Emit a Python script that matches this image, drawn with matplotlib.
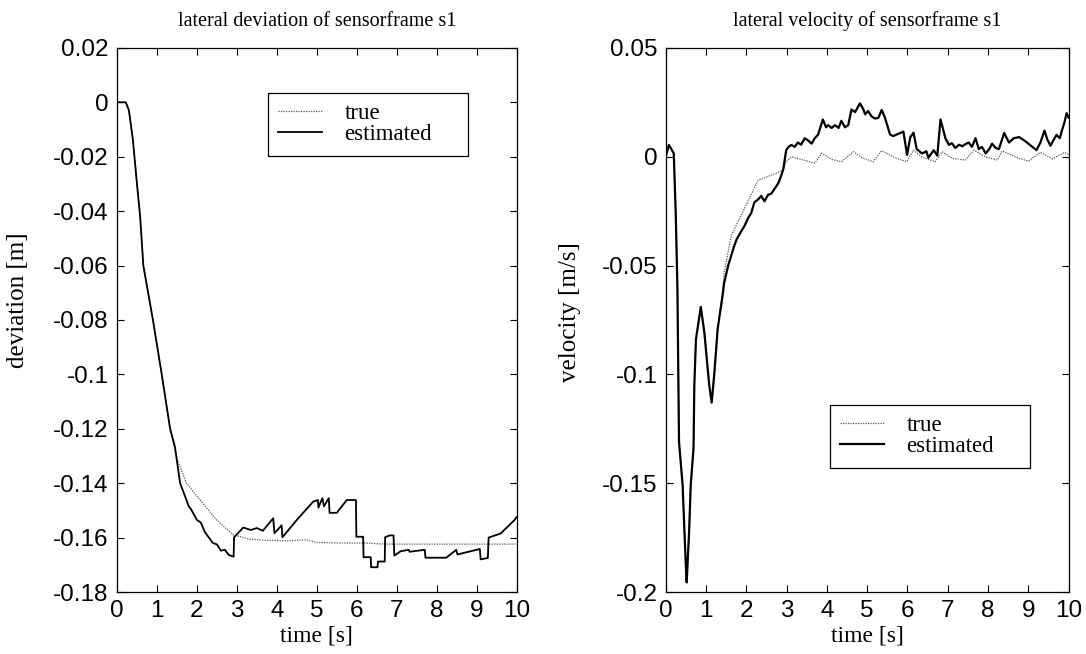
import matplotlib
matplotlib.use("Agg")
import matplotlib.pyplot as plt

# lateral deviation (left plot)
t_dev_true = [0, 0.22, 0.3, 0.4, 0.5, 0.58, 0.66, 0.9, 1.12, 1.33, 1.5, 1.74, 2.07, 2.49, 2.91,
              3.3, 3.74, 4.3, 4.74, 4.99, 5.6, 6.24, 6.66, 7.5, 8.5, 9.5, 10]
dev_true = [0, 0, -0.003, -0.014, -0.03, -0.042, -0.06, -0.08, -0.10, -0.12, -0.131, -0.14,
            -0.146, -0.1535, -0.159, -0.1605, -0.161, -0.1612, -0.1608, -0.1618, -0.162,
            -0.162, -0.1624, -0.1624, -0.1624, -0.1624, -0.1624]

t_dev_est = [0, 0.22, 0.3, 0.4, 0.5, 0.58, 0.66, 0.9, 1.12, 1.33, 1.45, 1.58, 1.8, 1.85, 2.0,
             2.1, 2.2, 2.4, 2.5, 2.6, 2.7, 2.8, 2.92, 2.93, 3.16, 3.35, 3.5, 3.65, 3.91, 3.94,
             4.12, 4.14, 4.5, 4.91, 5.03, 5.04, 5.14, 5.18, 5.3, 5.32, 5.5, 5.75, 5.98, 5.99,
             6.16, 6.17, 6.35, 6.36, 6.52, 6.53, 6.7, 6.71, 6.82, 6.92, 6.94, 7.1, 7.3, 7.32,
             7.7, 7.72, 8.24, 8.49, 8.52, 9.08, 9.1, 9.28, 9.3, 9.6, 9.95, 10]
dev_est = [0, 0, -0.003, -0.014, -0.03, -0.042, -0.06, -0.08, -0.10, -0.12, -0.1266, -0.14,
           -0.1486, -0.1495, -0.1535, -0.1545, -0.158, -0.162, -0.1625, -0.1648, -0.1645,
           -0.1664, -0.167, -0.1599, -0.1563, -0.1572, -0.1565, -0.1575, -0.1529, -0.1584,
           -0.1555, -0.1599, -0.1535, -0.1468, -0.1462, -0.149, -0.1455, -0.1485, -0.1455,
           -0.1509, -0.1509, -0.1462, -0.1462, -0.1597, -0.1597, -0.1672, -0.1672, -0.1709,
           -0.1709, -0.1688, -0.1688, -0.1599, -0.1592, -0.1592, -0.1666, -0.165, -0.1645,
           -0.1652, -0.1645, -0.1674, -0.1674, -0.1645, -0.1662, -0.1642, -0.168, -0.1675,
           -0.16, -0.1585, -0.1535, -0.1525]

# lateral velocity (right plot)
t_vel_true = [0, 0.08, 0.2, 0.25, 0.29, 0.33, 0.42, 0.46, 0.5, 0.52, 0.58, 0.62, 0.69, 0.71,
              0.75, 0.87, 0.96, 1.08, 1.14, 1.2, 1.29, 1.41, 1.45, 1.62, 1.95, 2.29, 2.62,
              2.91, 2.99, 3.12, 3.36, 3.7, 3.87, 4.12, 4.36, 4.66, 4.87, 5.15, 5.36, 5.69,
              5.98, 6.15, 6.36, 6.69, 6.86, 7.11, 7.44, 7.65, 7.94, 8.23, 8.35, 8.77, 9.0,
              9.3, 9.6, 9.9, 10]
vel_true = [0, 0.0054, 0.0015, -0.027, -0.06, -0.131, -0.151, -0.17, -0.188, -0.1956, -0.1726,
            -0.151, -0.134, -0.105, -0.084, -0.069, -0.081, -0.105, -0.113, -0.101, -0.079,
            -0.062, -0.0536, -0.0365, -0.024, -0.0109, -0.0085, -0.0062, -0.0023, 0.0,
            -0.0012, -0.003, 0.0016, -0.0012, -0.0023, 0.0023, -0.0005, -0.0023, 0.0028,
            -0.0005, -0.0023, 0.003, -0.0002, -0.0023, 0.0023, -0.0008, -0.0015, 0.003,
            -0.0002, -0.0015, 0.0026, -0.0008, -0.002, 0.002, -0.001, 0.002, 0.001]

t_vel_est = [0, 0.08, 0.2, 0.25, 0.29, 0.33, 0.42, 0.46, 0.5, 0.52, 0.58, 0.62, 0.69, 0.71,
             0.75, 0.87, 0.96, 1.08, 1.14, 1.2, 1.29, 1.41, 1.45, 1.55, 1.7, 1.76, 1.82, 1.9,
             1.95, 2.05, 2.12, 2.2, 2.3, 2.37, 2.45, 2.54, 2.62, 2.7, 2.8, 2.87, 2.92, 2.99,
             3.05, 3.12, 3.2, 3.28, 3.36, 3.45, 3.53, 3.62, 3.7, 3.78, 3.9, 3.98, 4.03, 4.12,
             4.2, 4.29, 4.36, 4.45, 4.53, 4.61, 4.7, 4.76, 4.82, 4.9, 4.95, 5.02, 5.11, 5.2,
             5.28, 5.36, 5.44, 5.57, 5.65, 5.77, 5.9, 5.99, 6.07, 6.15, 6.23, 6.36, 6.47, 6.52,
             6.65, 6.74, 6.82, 6.9, 6.94, 7.03, 7.1, 7.19, 7.28, 7.36, 7.44, 7.52, 7.6, 7.69,
             7.77, 7.85, 7.94, 8.03, 8.1, 8.19, 8.27, 8.4, 8.52, 8.64, 8.77, 8.9, 9.0, 9.1,
             9.2, 9.3, 9.4, 9.47, 9.55, 9.62, 9.7, 9.78, 9.85, 9.9, 9.95, 10]
vel_est = [0, 0.0054, 0.0015, -0.027, -0.06, -0.131, -0.151, -0.17, -0.188, -0.1956, -0.1726,
           -0.151, -0.134, -0.105, -0.084, -0.069, -0.081, -0.105, -0.113, -0.101, -0.079,
           -0.064, -0.058, -0.05, -0.041, -0.038, -0.036, -0.0335, -0.032, -0.028, -0.026,
           -0.021, -0.0195, -0.018, -0.0205, -0.0175, -0.017, -0.0148, -0.012, -0.0085,
           -0.0055, 0.003, 0.0045, 0.0054, 0.0045, 0.0065, 0.0055, 0.0085, 0.0075, 0.006,
           0.0085, 0.0101, 0.0171, 0.0135, 0.0145, 0.0132, 0.0145, 0.0132, 0.0165, 0.0135,
           0.0145, 0.0217, 0.0205, 0.0225, 0.0245, 0.022, 0.0195, 0.021, 0.0185, 0.0175,
           0.0179, 0.0215, 0.018, 0.0101, 0.0095, 0.0105, 0.0115, 0.0008, 0.009, 0.011,
           0.0035, 0.0015, 0.0025, -0.0005, 0.003, 0.0005, 0.0171, 0.0115, 0.0085, 0.0054,
           0.0062, 0.004, 0.0055, 0.0048, 0.0058, 0.0065, 0.0045, 0.0085, 0.0035, 0.0045,
           0.0015, 0.0035, 0.006, 0.004, 0.0035, 0.0109, 0.0065, 0.0085, 0.009, 0.0075,
           0.006, 0.0045, 0.003, 0.0065, 0.012, 0.008, 0.005, 0.0075, 0.01, 0.0085, 0.013,
           0.016, 0.02, 0.018]

serif = "Liberation Serif"
sans = "Liberation Sans"
dev_ticks = [0.02, 0, -0.02, -0.04, -0.06, -0.08, -0.1, -0.12, -0.14, -0.16, -0.18]
vel_ticks = [0.05, 0, -0.05, -0.1, -0.15, -0.2]


def format_ax(ax, title, ylabel, ylim, yticks):
    ax.set_xlim(0, 10)
    ax.set_ylim(*ylim)
    ax.set_xticks(range(11))
    ax.set_yticks(yticks)
    ax.set_yticklabels(["0" if v == 0 else ("%g" % v) for v in yticks])
    ax.tick_params(direction="in", top=True, right=True, length=5, width=0.8,
                   labelsize=17.5)
    ax.tick_params(axis="x", pad=6)
    ax.tick_params(axis="y", pad=6)
    for lab in ax.get_xticklabels() + ax.get_yticklabels():
        lab.set_fontfamily(sans)
    for sp in ax.spines.values():
        sp.set_linewidth(0.9)
    ax.set_title(title, fontfamily=serif, fontsize=14.5, pad=16)
    ax.set_xlabel("time [s]", fontfamily=serif, fontsize=17, labelpad=2)
    ax.set_ylabel(ylabel, fontfamily=serif, fontsize=18)


def make_legend(ax, anchor):
    leg = ax.legend(loc="upper left", bbox_to_anchor=anchor, mode="expand",
                    prop={"family": serif, "size": 16.5}, frameon=True, fancybox=False,
                    edgecolor="black", framealpha=1, handlelength=1.9, handletextpad=1.0,
                    borderpad=0.45, labelspacing=0.0, borderaxespad=0)
    leg.get_frame().set_linewidth(0.9)


fig = plt.figure(figsize=(10.86, 6.54), dpi=100)
ax1 = fig.add_axes([0.1077, 0.0948, 0.368, 0.832])
ax2 = fig.add_axes([0.613, 0.0948, 0.371, 0.832])

ax1.plot(t_dev_true, dev_true, linestyle=(0, (1, 1)), color="0.35", linewidth=0.9, label="true")
ax1.plot(t_dev_est, dev_est, color="black", linewidth=1.3, label="estimated")
format_ax(ax1, "lateral deviation of sensorframe s1", "deviation [m]", (-0.18, 0.02), dev_ticks)
ax1.yaxis.set_label_coords(-0.22, 0.537)
make_legend(ax1, (0.3775, 0.8, 0.5, 0.117))

ax2.plot(t_vel_true, vel_true, linestyle=(0, (1, 1)), color="0.35", linewidth=0.9, label="true")
ax2.plot(t_vel_est, vel_est, color="black", linewidth=1.6, label="estimated")
format_ax(ax2, "lateral velocity of sensorframe s1", "velocity [m/s]", (-0.2, 0.05), vel_ticks)
ax2.yaxis.set_label_coords(-0.21, 0.515)
make_legend(ax2, (0.407, 0.23, 0.496, 0.114))

fig.savefig("out.png", dpi=100)
